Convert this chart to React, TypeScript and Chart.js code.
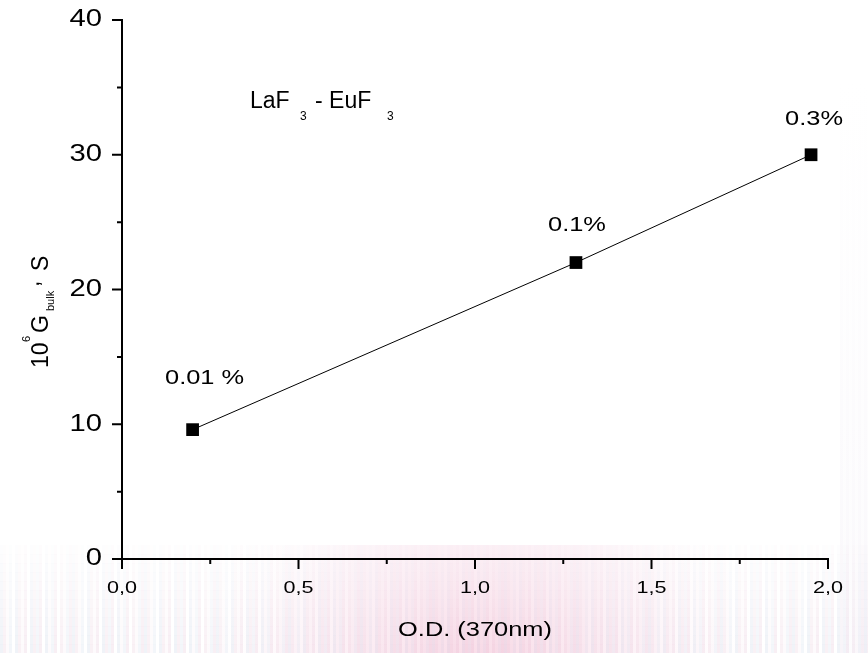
import React, { useEffect, useRef } from 'react';
import { Chart, registerables } from 'chart.js';

Chart.register(...registerables);

// ---- data ----
const odValues = [0.2, 1.286, 1.952];
const gBulkValues = [9.6, 22.0, 30.0];
const concentrationLabels = ['0.01 %', '0.1%', '0.3%'];
const xTickValues = [0, 0.5, 1.0, 1.5, 2.0];
const xTickLabels = ['0,0', '0,5', '1,0', '1,5', '2,0'];
const xMinorTickValues = [0.25, 0.75, 1.25, 1.75];
const yTickValues = [0, 10, 20, 30, 40];
const yTickLabels = ['0', '10', '20', '30', '40'];
const yMinorTickValues = [5, 15, 25, 35];
const xAxisTitle = 'O.D. (370nm)';
const compoundParts = ['LaF', '3', '- EuF', '3'];
const yTitleParts = ['10', '6', 'G', 'bulk', ',', 'S'];

// ---- styles ----
const FONT = "'Liberation Sans', Arial, sans-serif";
const labelOffsets = [
  { dx: 12, dy: -46 },
  { dx: 1, dy: -32 },
  { dx: 3, dy: -30 },
];
const AXIS_TEXT_STRETCH = 1.27;

let textStretch = AXIS_TEXT_STRETCH;

const stretchPlugin = {
  id: 'stretchText',
  beforeInit(chart: any) {
    const ctx = chart.ctx as any;
    if (ctx.__patched) return;
    const orig = ctx.fillText;
    ctx.fillText = function (text: string, x: number, y: number) {
      this.save();
      this.translate(x, y);
      this.scale(textStretch, 1);
      orig.call(this, text, 0, 0);
      this.restore();
    };
    ctx.__patched = true;
  },
};

const backgroundPlugin = {
  id: 'bgTexture',
  beforeDraw(chart: any) {
    const ctx = chart.ctx as CanvasRenderingContext2D;
    const W = chart.width;
    const H = chart.height;
    ctx.save();
    ctx.fillStyle = '#ffffff';
    ctx.fillRect(0, 0, W, H);
    const palette = ['#e8ecf4', '#f6eaf0', '#fcf8fa', '#edf1f7', '#f4e6ee', '#ffffff'];
    const bands = 12;
    const top = 545;
    for (let b = 0; b < bands; b++) {
      const y0 = top + ((H - top) * b) / bands;
      const y1 = top + ((H - top) * (b + 1)) / bands;
      ctx.globalAlpha = 0.1 + (0.6 * b) / bands;
      for (let x = 0, i = 0; x < W; x += 3, i++) {
        ctx.fillStyle = palette[(i * 7 + (i >> 2)) % palette.length];
        ctx.fillRect(x, y0, 3, y1 - y0 + 0.5);
      }
    }
    for (let x = 840, i = 0; x < W; x += 3, i++) {
      const g = ctx.createLinearGradient(0, 80, 0, H);
      g.addColorStop(0, 'rgba(240,236,244,0)');
      g.addColorStop(1, 'rgba(236,230,242,0.6)');
      ctx.globalAlpha = i % 2 === 0 ? 0.5 : 0.25;
      ctx.fillStyle = g;
      ctx.fillRect(x, 80, 3, H - 80);
    }
    ctx.globalAlpha = 1;
    const rg = ctx.createRadialGradient(480, 690, 20, 480, 690, 300);
    rg.addColorStop(0, 'rgba(236,150,185,0.35)');
    rg.addColorStop(0.6, 'rgba(240,190,215,0.15)');
    rg.addColorStop(1, 'rgba(255,255,255,0)');
    ctx.fillStyle = rg;
    ctx.fillRect(0, 545, W, H - 545);
    ctx.restore();
  },
};

const ticksAndTextPlugin = {
  id: 'ticksAndText',
  afterDraw(chart: any) {
    const ctx = chart.ctx as CanvasRenderingContext2D;
    const xs = chart.scales.x;
    const ys = chart.scales.y;
    const axisY = ys.getPixelForValue(0);
    const axisX = xs.getPixelForValue(0);
    ctx.save();
    ctx.strokeStyle = '#000';
    ctx.lineWidth = 2;
    ctx.beginPath();
    xTickValues.forEach((v) => {
      const px = xs.getPixelForValue(v);
      ctx.moveTo(px, axisY);
      ctx.lineTo(px, axisY + 10);
    });
    xMinorTickValues.forEach((v) => {
      const px = xs.getPixelForValue(v);
      ctx.moveTo(px, axisY);
      ctx.lineTo(px, axisY + 5);
    });
    yTickValues.forEach((v) => {
      const py = ys.getPixelForValue(v);
      ctx.moveTo(axisX, py);
      ctx.lineTo(axisX - 10, py);
    });
    yMinorTickValues.forEach((v) => {
      const py = ys.getPixelForValue(v);
      ctx.moveTo(axisX, py);
      ctx.lineTo(axisX - 5, py);
    });
    ctx.stroke();

    ctx.fillStyle = '#000';
    ctx.textBaseline = 'alphabetic';

    textStretch = 1.21;
    ctx.textAlign = 'center';
    ctx.font = `21px ${FONT}`;
    concentrationLabels.forEach((t, i) => {
      const px = xs.getPixelForValue(odValues[i]);
      const py = ys.getPixelForValue(gBulkValues[i]);
      ctx.fillText(t, px + labelOffsets[i].dx, py + labelOffsets[i].dy);
    });

    textStretch = 1.0;
    ctx.textAlign = 'left';
    ctx.font = `23px ${FONT}`;
    ctx.fillText(compoundParts[0], 250, 108);
    ctx.font = `12px ${FONT}`;
    ctx.fillText(compoundParts[1], 300, 120);
    ctx.font = `23px ${FONT}`;
    ctx.fillText(compoundParts[2], 315, 108);
    ctx.font = `12px ${FONT}`;
    ctx.fillText(compoundParts[3], 387, 120);

    ctx.translate(48, 368);
    ctx.rotate(-Math.PI / 2);
    const pieces = [
      { x: 0, y: 0, s: 23 },
      { x: 26, y: -18, s: 11 },
      { x: 35, y: 0, s: 23 },
      { x: 57, y: 6, s: 11 },
      { x: 81, y: -9, s: 23 },
      { x: 97, y: 0, s: 23 },
    ];
    textStretch = 1.0;
    yTitleParts.forEach((t, i) => {
      ctx.font = `${pieces[i].s}px ${FONT}`;
      ctx.fillText(t, pieces[i].x, pieces[i].y);
    });
    ctx.restore();
    textStretch = AXIS_TEXT_STRETCH;
  },
};

export default function App() {
  const canvasRef = useRef<HTMLCanvasElement | null>(null);

  useEffect(() => {
    if (!canvasRef.current) return;
    textStretch = AXIS_TEXT_STRETCH;
    const chart = new Chart(canvasRef.current, {
      type: 'scatter',
      data: {
        datasets: [
          {
            data: odValues.map((x, i) => ({ x, y: gBulkValues[i] })),
            showLine: true,
            borderColor: '#000',
            borderWidth: 1,
            tension: 0,
            pointStyle: 'rect',
            pointRadius: 9,
            pointHoverRadius: 9,
            pointBackgroundColor: '#000',
            pointBorderColor: '#000',
            pointBorderWidth: 0,
          },
        ],
      },
      options: {
        responsive: false,
        animation: false,
        devicePixelRatio: 1,
        layout: { padding: { top: 20, right: 40, bottom: 0, left: 0 }, autoPadding: false },
        plugins: {
          legend: { display: false },
          tooltip: { enabled: false },
        },
        events: [],
        scales: {
          x: {
            type: 'linear',
            min: 0,
            max: 2,
            afterBuildTicks: (s: any) => {
              s.ticks = xTickValues.map((v) => ({ value: v }));
            },
            afterFit: (s: any) => {
              s.height = 94;
              s.paddingLeft = 0;
              s.paddingRight = 0;
              s.paddingTop = 0;
              s.paddingBottom = 0;
            },
            ticks: {
              callback: (v: any) => {
                const i = xTickValues.findIndex((t) => Math.abs(t - v) < 1e-9);
                return i >= 0 ? xTickLabels[i] : '';
              },
              font: { family: FONT, size: 17 },
              color: '#000',
              padding: 19,
              maxRotation: 0,
              autoSkip: false,
            },
            grid: { display: false, drawTicks: false },
            border: { display: true, color: '#000', width: 2 },
            title: {
              display: true,
              text: xAxisTitle,
              color: '#000',
              font: { family: FONT, size: 20 },
              padding: { top: 0, bottom: 11 },
            },
          },
          y: {
            type: 'linear',
            min: 0,
            max: 40,
            afterBuildTicks: (s: any) => {
              s.ticks = yTickValues.map((v) => ({ value: v }));
            },
            afterFit: (s: any) => {
              s.width = 122;
              s.paddingLeft = 0;
              s.paddingRight = 0;
              s.paddingTop = 0;
              s.paddingBottom = 0;
            },
            ticks: {
              callback: (v: any) => {
                const i = yTickValues.findIndex((t) => Math.abs(t - v) < 1e-9);
                return i >= 0 ? yTickLabels[i] : '';
              },
              font: { family: FONT, size: 23 },
              color: '#000',
              padding: 20,
              autoSkip: false,
            },
            grid: { display: false, drawTicks: false },
            border: { display: true, color: '#000', width: 2 },
          },
        },
      },
      plugins: [stretchPlugin, backgroundPlugin, ticksAndTextPlugin],
    } as any);
    return () => chart.destroy();
  }, []);

  return (
    <div style={{ position: 'fixed', left: 0, top: 0, width: 868, height: 653, background: '#fff' }}>
      <canvas ref={canvasRef} width={868} height={653} style={{ display: 'block' }} />
    </div>
  );
}
